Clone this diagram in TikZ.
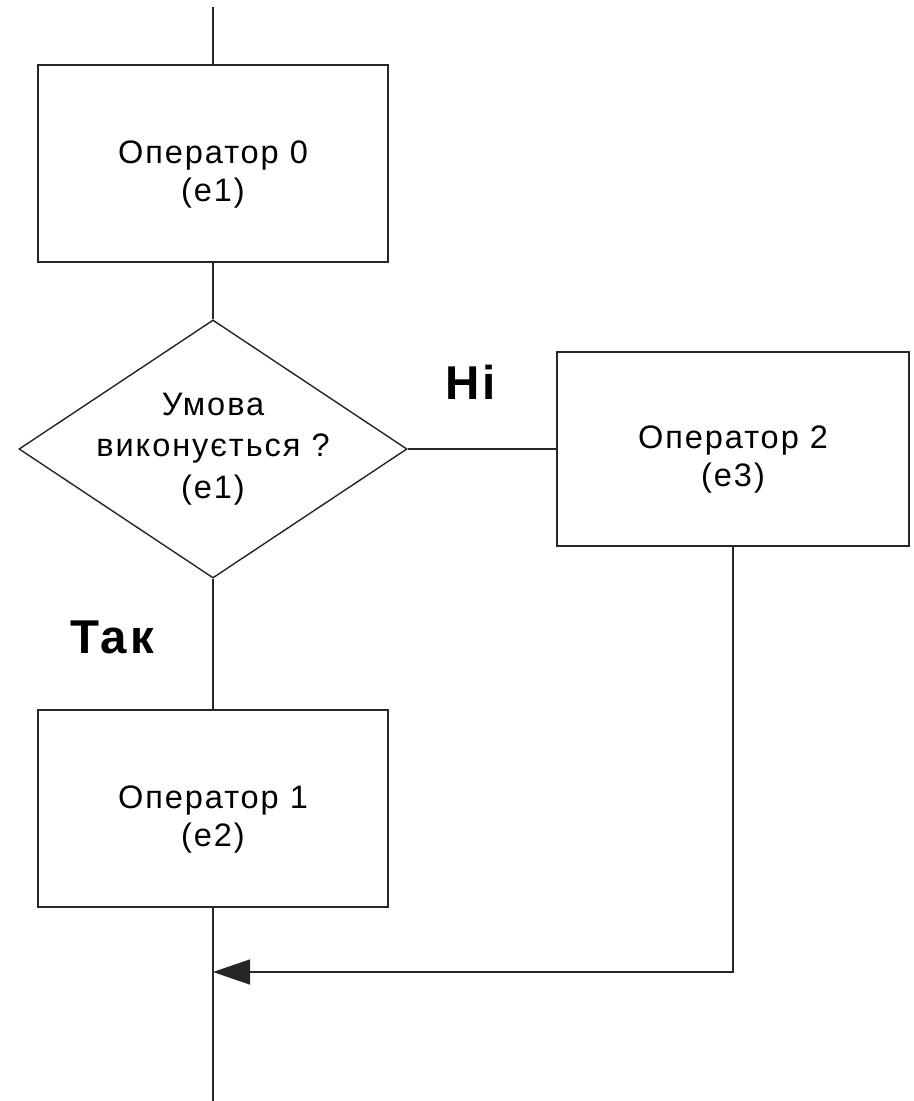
\documentclass[tikz,border=0pt]{standalone}
\usepackage{fontspec}
\setmainfont[LetterSpace=6]{Liberation Sans}
\usetikzlibrary{shapes.geometric,arrows.meta}

\begin{document}
\begin{tikzpicture}[
    every node/.style={font=\fontsize{18.5}{23.5}\selectfont},
    block/.style={draw=black!85, line width=0.8pt, minimum width=7cm, minimum height=3.94cm, align=center,
      font=\fontsize{18.5}{21.5}\selectfont, text height=1.9cm, text depth=0.4cm},
    cond/.style={draw=black!85, line width=0.8pt, diamond, aspect=1.504, minimum width=7.76cm, minimum height=5.16cm,
      inner ysep=0pt, inner xsep=-0.13cm, align=center},
    answer/.style={font=\fontsize{27}{31}\selectfont\bfseries},
    link/.style={draw=black!85, line width=0.8pt}]
  \useasboundingbox (0,0) rectangle (18.28,-22.02);
  \coordinate (top) at (4.26,-0.14);
  \node[block] (op0) at (4.26,-3.27) {Оператор 0\\(e1)};
  \node[cond] (check) at (4.26,-8.98) {Умова\\виконується ?\\(e1)};
  \node[block, minimum width=7.04cm, minimum height=3.88cm] (op2) at (14.66,-8.98) {Оператор 2\\(e3)};
  \node[block] (op1) at (4.26,-16.17) {Оператор 1\\(e2)};
  \coordinate (join) at (4.26,-19.44);
  \coordinate (bottom) at (4.26,-22.02);
  \node[answer] (no) at (9.42,-7.64) {Ні};
  \node[answer] (yes) at (2.24,-12.74) {Так};
  % connectors
  \draw[link] (top) -- (op0);
  \draw[link] (op0) -- (check);
  \draw[link] (check) -- (op1);
  \draw[link] (check) -- (op2);
  \draw[link] (op1) -- (bottom);
  \draw[link, -{Triangle[length=0.74cm, width=0.5cm]}] (op2.south) |- (join);
\end{tikzpicture}
\end{document}
